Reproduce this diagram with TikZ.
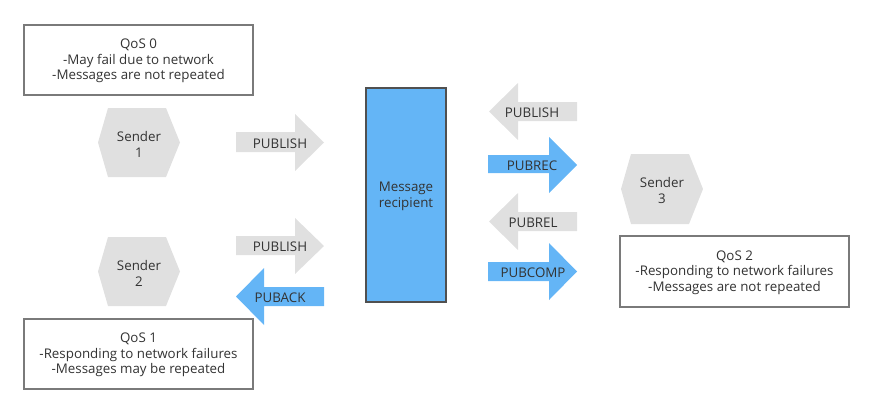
\documentclass[tikz,border=0pt]{standalone}
\usepackage{fontspec}
\setmainfont{Open Sans}
\definecolor{bluefill}{HTML}{64B5F6}
\definecolor{grayfill}{HTML}{E0E0E0}
\definecolor{boxline}{HTML}{7A7A7A}
\definecolor{rectline}{HTML}{505050}
\definecolor{txt}{HTML}{333333}
\tikzset{
  qbox/.style={draw=boxline, line width=1pt, fill=white},
  hexfill/.style={fill=grayfill, draw=none},
  garrow/.style={fill=grayfill, draw=none},
  barrow/.style={fill=bluefill, draw=none},
  lbl/.style={align=center, inner sep=0pt, text=txt},
}
\begin{document}
\begin{tikzpicture}[x=0.75pt,y=-0.75pt, font=\fontsize{10}{11.6}\selectfont]
\useasboundingbox (0,0) rectangle (873,414);
% QoS boxes
\draw[qbox] (24,25) rectangle (253,95);
\node[lbl] (q0) at (138.5,61) {QoS 0\\-May fail due to network\\-Messages are not repeated};
\draw[qbox] (24,319) rectangle (253,389);
\node[lbl] (q1) at (138.5,355) {QoS 1\\-Responding to network failures\\-Messages may be repeated};
\draw[qbox] (620,236) rectangle (849,307);
\node[lbl] (q2) at (734.5,272.5) {QoS 2\\-Responding to network failures\\-Messages are not repeated};
% Senders
\fill[hexfill] (98,142.5) -- (108,108) -- (166,108) -- (180,142.5) -- (166,177) -- (108,177) -- cycle;
\node[lbl] (s1) at (139,144.5) {Sender\\1};
\fill[hexfill] (98,271.5) -- (108,237) -- (166,237) -- (180,271.5) -- (166,306) -- (108,306) -- cycle;
\node[lbl] (s2) at (139,273.5) {Sender\\2};
\fill[hexfill] (621,189) -- (631,154) -- (689,154) -- (703,189) -- (689,224) -- (631,224) -- cycle;
\node[lbl] (s3) at (662,190.5) {Sender\\3};
% Message recipient
\draw[fill=bluefill, draw=rectline, line width=0.9pt] (366,88) rectangle (446,302);
\node[lbl] (mr) at (406,196.5) {Message\\recipient};
% Left arrows
\fill[garrow] (236,132) -- (295,132) -- (295,114) -- (324,142.5) -- (295,171) -- (295,152) -- (236,152) -- cycle;
\node[lbl] (a1) at (280,144) {PUBLISH};
\fill[garrow] (236,236) -- (295,236) -- (295,218) -- (324,246) -- (295,274) -- (295,255) -- (236,255) -- cycle;
\node[lbl] (a2) at (280,247) {PUBLISH};
\fill[barrow] (324,287) -- (264,287) -- (264,268) -- (236,296.5) -- (264,325) -- (264,306) -- (324,306) -- cycle;
\node[lbl] (a3) at (280,298) {PUBACK};
% Right arrows
\fill[garrow] (577,102) -- (518,102) -- (518,83) -- (489,111.5) -- (518,140) -- (518,121) -- (577,121) -- cycle;
\node[lbl] (b1) at (532,113) {PUBLISH};
\fill[barrow] (488,155) -- (549,155) -- (549,137) -- (577,165) -- (549,193) -- (549,173) -- (488,173) -- cycle;
\node[lbl] (b2) at (532,166) {PUBREC};
\fill[garrow] (577,212) -- (518,212) -- (518,193) -- (489,221.5) -- (518,250) -- (518,231) -- (577,231) -- cycle;
\node[lbl] (b3) at (533,223) {PUBREL};
\fill[barrow] (488,262) -- (549,262) -- (549,243) -- (577,271.5) -- (549,300) -- (549,281) -- (488,281) -- cycle;
\node[lbl] (b4) at (533,273) {PUBCOMP};
\end{tikzpicture}
\end{document}
